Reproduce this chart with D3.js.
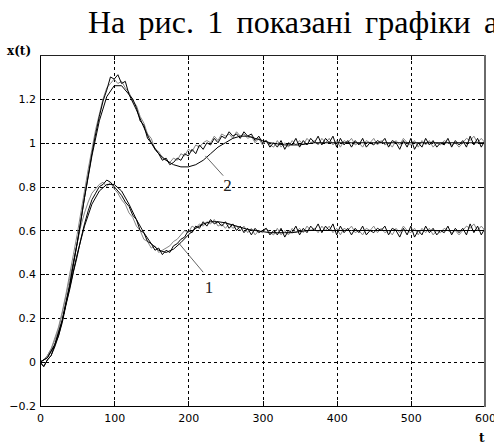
<!DOCTYPE html>
<html>
<head>
<meta charset="utf-8">
<script src="https://cdn.jsdelivr.net/npm/d3@7"></script>
<style>
  body { margin: 0; background: #fff; }
  svg { display: block; }
</style>
</head>
<body>
<div id="chart"></div>
<script>
// axis ticks
const xTicks = [0, 100, 200, 300, 400, 500, 600];
const yTicks = [-0.2, 0, 0.2, 0.4, 0.6, 0.8, 1, 1.2];

// sample steps (t units)
const modelStep = 10;
const noisyStep = 5;

// smooth model responses, t = 0..600 every 10
const model2 = [0, 0.02, 0.08, 0.19, 0.35, 0.54, 0.75, 0.94, 1.1, 1.21,
  1.26, 1.26, 1.22, 1.15, 1.07, 1.0, 0.95, 0.92, 0.9, 0.89,
  0.89, 0.9, 0.92, 0.95, 0.98, 1.0, 1.02, 1.03, 1.03, 1.02,
  1.01, 1.0, 0.995, 0.99, 0.99, 0.99, 0.995, 1.0, 1.0, 1.0,
  1.0, 1.0, 1.0, 1.0, 1.0, 1.0, 1.0, 1.0, 1.0, 1.0,
  1.0, 1.0, 1.0, 1.0, 1.0, 1.0, 1.0, 1.0, 1.0, 1.0, 1.0];
const model1 = [0, 0.02, 0.08, 0.19, 0.34, 0.49, 0.62, 0.72, 0.78, 0.81,
  0.81, 0.78, 0.72, 0.65, 0.59, 0.54, 0.51, 0.5, 0.515, 0.545,
  0.58, 0.61, 0.63, 0.64, 0.64, 0.635, 0.625, 0.615, 0.605, 0.6,
  0.595, 0.59, 0.59, 0.59, 0.59, 0.595, 0.6, 0.6, 0.6, 0.6,
  0.6, 0.6, 0.6, 0.6, 0.6, 0.6, 0.6, 0.6, 0.6, 0.6,
  0.6, 0.6, 0.6, 0.6, 0.6, 0.6, 0.6, 0.6, 0.6, 0.6, 0.6];

// measured (noisy) responses, t = 0..600 every 5
const noisy2Black = [0, -0.02, 0.01, 0.03, 0.08, 0.12, 0.19, 0.27, 0.35, 0.45,
  0.54, 0.64, 0.75, 0.85, 0.95, 1.04, 1.12, 1.19, 1.24, 1.30,
  1.29, 1.31, 1.27, 1.28, 1.22, 1.20, 1.16, 1.10, 1.08, 1.02,
  1.00, 0.97, 0.95, 0.92, 0.93, 0.90, 0.91, 0.93, 0.92, 0.95,
  0.94, 0.97, 0.95, 0.99, 0.97, 1.00, 0.99, 1.02, 1.00, 1.03,
  1.02, 1.05, 1.03, 1.04, 1.02, 1.05, 1.03, 1.04, 1.01, 1.03,
  1.00, 1.01, 0.98, 1.00, 0.98, 1.01, 0.97, 1.00, 0.99, 1.02,
  0.98, 1.01, 0.99, 1.02, 1.00, 1.03, 0.99, 1.02, 1.00, 1.03,
  0.98, 1.02, 0.99, 1.01, 0.98, 1.01, 0.99, 1.02, 0.98, 1.00,
  0.99, 1.01, 1.00, 1.02, 0.98, 1.01, 1.00, 0.97, 1.01, 0.98,
  1.02, 0.97, 1.00, 0.98, 1.02, 0.99, 1.01, 0.98, 1.00, 0.99,
  1.02, 0.98, 1.01, 0.99, 1.01, 0.98, 1.03, 0.99, 1.02, 0.98,
  1.01];
const noisy2Gray = [0, 0.01, 0.03, 0.06, 0.11, 0.16, 0.23, 0.31, 0.40, 0.49,
  0.58, 0.68, 0.78, 0.88, 0.97, 1.06, 1.13, 1.20, 1.25, 1.27,
  1.29, 1.27, 1.28, 1.25, 1.23, 1.19, 1.17, 1.12, 1.09, 1.04,
  1.02, 0.97, 0.96, 0.93, 0.92, 0.91, 0.93, 0.92, 0.95, 0.94,
  0.97, 0.96, 0.99, 0.98, 1.00, 1.01, 1.00, 1.03, 1.01, 1.04,
  1.03, 1.04, 1.02, 1.05, 1.03, 1.04, 1.02, 1.03, 1.00, 1.02,
  0.99, 1.01, 0.99, 0.98, 1.01, 0.98, 1.00, 0.98, 1.01, 0.99,
  1.01, 0.99, 1.02, 1.00, 1.01, 0.99, 1.02, 1.00, 1.02, 0.99,
  1.01, 0.98, 1.01, 1.00, 1.02, 0.99, 1.00, 0.98, 1.01, 1.00,
  1.02, 0.99, 1.01, 0.99, 1.00, 0.98, 1.01, 0.99, 1.02, 1.00,
  0.99, 1.01, 0.98, 1.01, 0.99, 1.01, 0.98, 1.00, 0.99, 1.01,
  1.00, 0.99, 1.00, 0.98, 1.00, 1.02, 1.01, 1.03, 1.00, 1.02,
  1.00];
const noisy1Black = [0, -0.02, 0.01, 0.03, 0.07, 0.12, 0.18, 0.26, 0.33, 0.41,
  0.48, 0.56, 0.63, 0.69, 0.74, 0.77, 0.80, 0.81, 0.83, 0.82,
  0.80, 0.78, 0.76, 0.73, 0.71, 0.67, 0.65, 0.60, 0.59, 0.55,
  0.54, 0.51, 0.52, 0.49, 0.51, 0.50, 0.53, 0.54, 0.56, 0.57,
  0.60, 0.59, 0.62, 0.61, 0.64, 0.62, 0.65, 0.63, 0.64, 0.62,
  0.64, 0.61, 0.63, 0.60, 0.62, 0.59, 0.61, 0.58, 0.61, 0.59,
  0.60, 0.61, 0.58, 0.60, 0.58, 0.61, 0.57, 0.60, 0.59, 0.62,
  0.58, 0.61, 0.59, 0.62, 0.60, 0.63, 0.59, 0.62, 0.60, 0.63,
  0.58, 0.62, 0.59, 0.61, 0.58, 0.61, 0.59, 0.62, 0.58, 0.60,
  0.59, 0.61, 0.60, 0.62, 0.58, 0.61, 0.60, 0.57, 0.61, 0.58,
  0.62, 0.57, 0.60, 0.58, 0.62, 0.59, 0.61, 0.58, 0.60, 0.59,
  0.62, 0.58, 0.61, 0.59, 0.61, 0.58, 0.63, 0.59, 0.62, 0.58,
  0.61];
const noisy1Gray = [0, 0.01, 0.03, 0.06, 0.10, 0.15, 0.22, 0.30, 0.38, 0.46,
  0.54, 0.62, 0.68, 0.73, 0.77, 0.79, 0.81, 0.82, 0.80, 0.82,
  0.79, 0.77, 0.74, 0.72, 0.68, 0.66, 0.62, 0.60, 0.56, 0.55,
  0.52, 0.53, 0.50, 0.51, 0.52, 0.53, 0.55, 0.56, 0.58, 0.60,
  0.59, 0.62, 0.61, 0.63, 0.62, 0.64, 0.63, 0.65, 0.62, 0.63,
  0.61, 0.63, 0.61, 0.62, 0.60, 0.62, 0.59, 0.61, 0.58, 0.60,
  0.59, 0.61, 0.59, 0.58, 0.61, 0.58, 0.60, 0.58, 0.61, 0.59,
  0.61, 0.59, 0.62, 0.60, 0.61, 0.59, 0.62, 0.60, 0.62, 0.59,
  0.61, 0.58, 0.61, 0.60, 0.62, 0.59, 0.60, 0.58, 0.61, 0.60,
  0.62, 0.59, 0.61, 0.59, 0.60, 0.58, 0.61, 0.59, 0.62, 0.60,
  0.59, 0.61, 0.58, 0.61, 0.59, 0.61, 0.58, 0.60, 0.59, 0.61,
  0.60, 0.59, 0.60, 0.58, 0.60, 0.62, 0.61, 0.63, 0.60, 0.62,
  0.60];

// curve labels with leader lines: [t, value] of curve point, leader end, text position
const curveLabels = [
  { text: "2", from: [223, 0.94], to: [247, 0.85], at: [247, 0.78] },
  { text: "1", from: [186, 0.547], to: [220, 0.41], at: [222, 0.315] }
];

const W = 494, H = 444;
const margin = { top: 55, right: 9, bottom: 38, left: 40 };
const width = W - margin.left - margin.right;
const height = H - margin.top - margin.bottom;

const svg = d3.select("#chart").append("svg")
  .attr("width", W).attr("height", H);

// heading text of the page above the figure (cut at the right edge, as in the source)
const head = svg.append("text")
  .attr("x", 88).attr("y", 33)
  .attr("font-family", "Liberation Serif, Times New Roman, serif")
  .attr("font-size", 32)
  .text("На рис. 1 показані графіки а");
// justified-text word gaps so the last letter starts near the edge
const headNode = head.node();
const lastStart = headNode.getStartPositionOfChar(headNode.getNumberOfChars() - 1).x;
head.attr("word-spacing", Math.max(0, (484 - lastStart) / 5));

const g = svg.append("g").attr("transform", `translate(${margin.left},${margin.top})`);

const x = d3.scaleLinear().domain([0, 600]).range([0, width]);
const y = d3.scaleLinear().domain([-0.2, 1.4]).range([height, 0]);

// dashed grid
g.append("g").selectAll("line").data(xTicks.slice(1, -1)).enter().append("line")
  .attr("x1", d => Math.round(x(d)) + 0.5).attr("x2", d => Math.round(x(d)) + 0.5)
  .attr("y1", 0).attr("y2", height)
  .attr("stroke", "#000").attr("stroke-dasharray", "3,3");
g.append("g").selectAll("line").data(yTicks.slice(1)).enter().append("line")
  .attr("y1", d => Math.round(y(d)) + 0.5).attr("y2", d => Math.round(y(d)) + 0.5)
  .attr("x1", 0).attr("x2", width)
  .attr("stroke", "#000").attr("stroke-dasharray", "3,3");

// curves
g.append("clipPath").attr("id", "clip").append("rect")
  .attr("width", width).attr("height", height);
const plot = g.append("g").attr("clip-path", "url(#clip)");

const line = step => d3.line().x((d, i) => x(i * step)).y(d => y(d));

const series = [
  { data: noisy2Gray, step: noisyStep, color: "#858585" },
  { data: noisy1Gray, step: noisyStep, color: "#858585" },
  { data: noisy2Black, step: noisyStep, color: "#000" },
  { data: noisy1Black, step: noisyStep, color: "#000" },
  { data: model2, step: modelStep, color: "#000" },
  { data: model1, step: modelStep, color: "#000" }
];
plot.selectAll("path").data(series).enter().append("path")
  .attr("d", s => line(s.step)(s.data))
  .attr("fill", "none")
  .attr("stroke", s => s.color)
  .attr("stroke-width", 1);

// axes: labels outside, small inner ticks on all sides
const xAxis = g.append("g").attr("transform", `translate(0,${height})`)
  .call(d3.axisBottom(x).tickValues(xTicks).tickSize(0).tickPadding(8).tickFormat(d3.format("d")));
const yAxis = g.append("g")
  .call(d3.axisLeft(y).tickValues(yTicks).tickSize(0).tickPadding(4).tickFormat(d => d3.format("")(+d.toFixed(1))));
[xAxis, yAxis].forEach(a => {
  a.select(".domain").remove();
  a.selectAll("text").attr("font-family", "DejaVu Sans, sans-serif").attr("font-size", 11).attr("fill", "#000");
});

const tl = 5;
const ticks = g.append("g").attr("stroke", "#000");
xTicks.slice(1, -1).forEach(d => {
  const px = Math.round(x(d)) + 0.5;
  ticks.append("line").attr("x1", px).attr("x2", px).attr("y1", height).attr("y2", height - tl);
  ticks.append("line").attr("x1", px).attr("x2", px).attr("y1", 0).attr("y2", tl);
});
yTicks.slice(1).forEach(d => {
  const py = Math.round(y(d)) + 0.5;
  ticks.append("line").attr("x1", 0).attr("x2", tl).attr("y1", py).attr("y2", py);
  ticks.append("line").attr("x1", width).attr("x2", width - tl).attr("y1", py).attr("y2", py);
});

// box
g.append("line").attr("x1", 0.5).attr("x2", 0.5).attr("y1", 0).attr("y2", height + 0.5).attr("stroke", "#000");
g.append("line").attr("x1", 0).attr("x2", width).attr("y1", height + 0.5).attr("y2", height + 0.5).attr("stroke", "#000");
g.append("line").attr("x1", 0).attr("x2", width).attr("y1", 0.5).attr("y2", 0.5).attr("stroke", "#222");
g.append("line").attr("x1", width).attr("x2", width).attr("y1", 0).attr("y2", height + 1).attr("stroke", "#6a6a6a").attr("stroke-width", 2);

// curve labels
curveLabels.forEach(c => {
  g.append("line")
    .attr("x1", x(c.from[0])).attr("y1", y(c.from[1]))
    .attr("x2", x(c.to[0])).attr("y2", y(c.to[1]))
    .attr("stroke", "#666");
  g.append("text")
    .attr("x", x(c.at[0])).attr("y", y(c.at[1]))
    .attr("font-family", "Liberation Serif, serif").attr("font-size", 17)
    .attr("fill", "#222")
    .text(c.text);
});

// axis names
svg.append("text").attr("x", 7).attr("y", 55)
  .attr("font-family", "DejaVu Serif, serif").attr("font-weight", "bold").attr("font-size", 12)
  .text("x(t)");
svg.append("text").attr("x", 479).attr("y", 442)
  .attr("font-family", "DejaVu Serif, serif").attr("font-weight", "bold").attr("font-size", 12)
  .text("t");
</script>
</body>
</html>
